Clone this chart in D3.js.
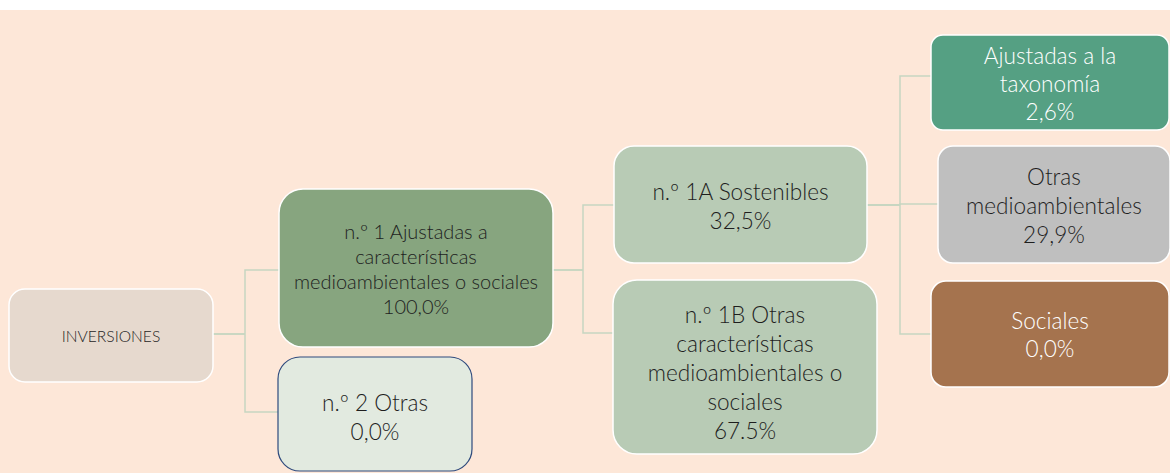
<!DOCTYPE html>
<html>
<head>
<meta charset="utf-8">
<script src="https://cdn.jsdelivr.net/npm/d3@7"></script>
<style>
  html, body { margin: 0; padding: 0; background: #fff; }
  svg { display: block; }
  .box-label { font-family: Lato, "Open Sans", sans-serif; font-weight: 300; }
</style>
</head>
<body>
<svg id="chart"></svg>
<script>
// tree data
const nodeIds = ['inv', 'n1', 'n2', 'n1a', 'n1b', 'tax', 'oma', 'soc'];
const nodeParents = [null, 'inv', 'inv', 'n1', 'n1', 'n1a', 'n1a', 'n1a'];
const nodeLines = [
  ['INVERSIONES'],
  ['n.º 1 Ajustadas a', 'características', 'medioambientales o sociales'],
  ['n.º 2 Otras'],
  ['n.º 1A Sostenibles'],
  ['n.º 1B Otras', 'características', 'medioambientales o', 'sociales'],
  ['Ajustadas a la', 'taxonomía'],
  ['Otras', 'medioambientales'],
  ['Sociales']
];
const nodeValues = [null, '100,0%', '0,0%', '32,5%', '67.5%', '2,6%', '29,9%', '0,0%'];

// layout of the boxes (x, y, w, h, corner radius, connector y, text style)
const layout = {
  inv: {x: 9,   y: 289, w: 204, h: 93,  r: 16, cy: 334, fill: '#e6d9ce', stroke: '#fff', color: '#262626', fs: 15.6, lh: 20, dy: 2},
  n1:  {x: 279, y: 189, w: 274, h: 158, r: 24, cy: 270, fill: '#87a57f', stroke: '#fff', color: '#1e1e1e', fs: 20, lh: 25, dy: 2},
  n2:  {x: 278, y: 357, w: 194, h: 114, r: 22, cy: 412, fill: '#e2eae0', stroke: '#2e4a7d', color: '#1e1e1e', fs: 22.6, lh: 29, dy: 5},
  n1a: {x: 614, y: 146, w: 253, h: 117, r: 20, cy: 205, fill: '#b8cbb5', stroke: '#fff', color: '#1e1e1e', fs: 22.6, lh: 29, dy: 3},
  n1b: {x: 613, y: 280, w: 264, h: 174, r: 24, cy: 333, fill: '#b8cbb5', stroke: '#fff', color: '#1e1e1e', fs: 22.6, lh: 29, dy: 7},
  tax: {x: 931, y: 35,  w: 238, h: 95,  r: 12, cy: 76,  fill: '#55a083', stroke: '#fff', color: '#ffffff', fs: 22.6, lh: 28, dy: 3},
  oma: {x: 938, y: 146, w: 232, h: 117, r: 15, cy: 204, fill: '#bfbfbf', stroke: '#fff', color: '#1e1e1e', fs: 22.6, lh: 29, dy: 3},
  soc: {x: 931, y: 281, w: 238, h: 106, r: 15, cy: 334, fill: '#a5734e', stroke: '#fff', color: '#ffffff', fs: 22.6, lh: 28, dy: 2}
};
// x of the vertical trunk for each parent
const trunkX = {inv: 245, n1: 583, n1a: 900};

const width = 1170;
const height = 473;

const table = nodeIds.map((id, i) => ({
  id: id,
  parent: nodeParents[i],
  lines: nodeValues[i] ? nodeLines[i].concat([nodeValues[i]]) : nodeLines[i]
}));

const root = d3.stratify()
  .id(d => d.id)
  .parentId(d => d.parent)(table);

const svg = d3.select('#chart')
  .attr('width', width)
  .attr('height', height);

svg.append('rect')
  .attr('x', 0)
  .attr('y', 10)
  .attr('width', width)
  .attr('height', height - 10)
  .attr('fill', '#fde7d8');

// connectors
const connectors = svg.append('g')
  .attr('class', 'connectors')
  .attr('fill', 'none')
  .attr('stroke', '#c6d6c1')
  .attr('stroke-width', 1.5);

root.links().forEach(l => {
  const s = layout[l.source.id];
  const t = layout[l.target.id];
  const tx = trunkX[l.source.id];
  const p = d3.path();
  p.moveTo(s.x + s.w, s.cy);
  p.lineTo(tx, s.cy);
  p.moveTo(tx, s.cy);
  p.lineTo(tx, t.cy);
  p.lineTo(t.x, t.cy);
  connectors.append('path').attr('d', p.toString());
});

// boxes
const boxes = svg.append('g')
  .attr('class', 'boxes')
  .selectAll('g')
  .data(root.descendants())
  .enter()
  .append('g')
  .attr('transform', d => `translate(${layout[d.id].x},${layout[d.id].y})`);

boxes.append('rect')
  .attr('width', d => layout[d.id].w)
  .attr('height', d => layout[d.id].h)
  .attr('rx', d => layout[d.id].r)
  .attr('ry', d => layout[d.id].r)
  .attr('fill', d => layout[d.id].fill)
  .attr('stroke', d => layout[d.id].stroke)
  .attr('stroke-width', d => d.id === 'n2' ? 1.2 : 1.5);

boxes.append('text')
  .attr('class', 'box-label')
  .attr('text-anchor', 'middle')
  .attr('fill', d => layout[d.id].color)
  .attr('font-size', d => layout[d.id].fs)
  .selectAll('tspan')
  .data(d => d.data.lines.map((line, i) => ({line, i, n: d.data.lines.length, L: layout[d.id]})))
  .enter()
  .append('tspan')
  .attr('x', d => d.L.w / 2)
  .attr('y', d => d.L.h / 2 + d.L.dy + (d.i - (d.n - 1) / 2) * d.L.lh + d.L.fs * 0.3)
  .text(d => d.line);
</script>
</body>
</html>
